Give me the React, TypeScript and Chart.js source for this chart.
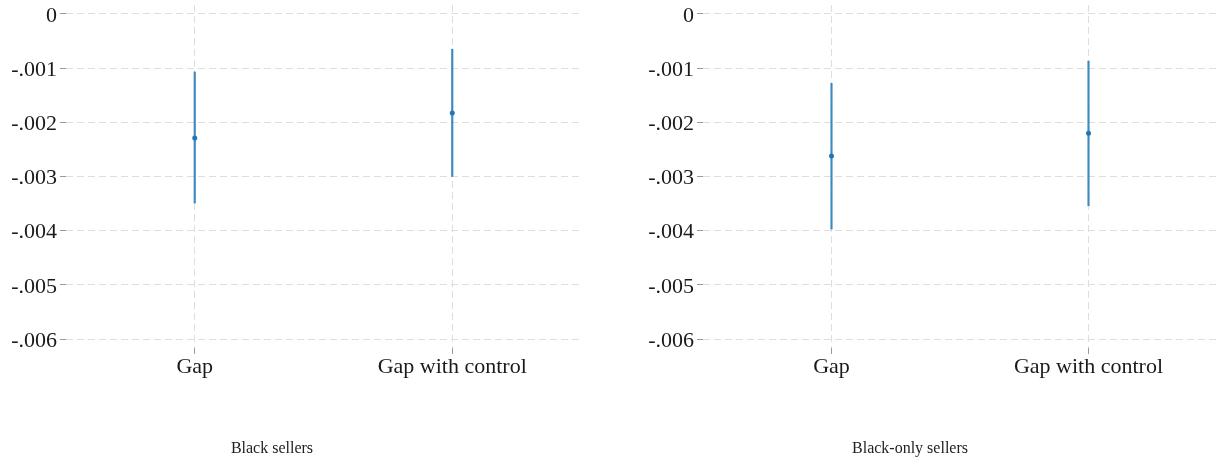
import React, { useEffect, useRef } from "react";
import { Chart, registerables } from "chart.js";

Chart.register(...registerables);

const categories = ["Gap", "Gap with control"];

const blackEst = [-0.00229, -0.00183];
const blackLo = [-0.00349, -0.003];
const blackHi = [-0.00107, -0.00065];

const onlyEst = [-0.00262, -0.0022];
const onlyLo = [-0.00397, -0.00354];
const onlyHi = [-0.00128, -0.00087];

const yTickValues = [0, -0.001, -0.002, -0.003, -0.004, -0.005, -0.006];
const yTickLabels = ["0", "-.001", "-.002", "-.003", "-.004", "-.005", "-.006"];

const panelTitles = ["Black sellers", "Black-only sellers"];

const BLUE = "#1f77b4";
const BAR = "rgba(31,119,180,0.85)";
const GRID = "#dedede";
const TICK = "#9a9a9a";
const TEXT = "#1a1a1a";
const FONT = '"Liberation Serif", "Times New Roman", serif';

type PanelProps = {
  est: number[];
  lo: number[];
  hi: number[];
  left: number;
  width: number;
  yWidth: number;
  padRight: number;
};

function Panel({ est, lo, hi, left, width, yWidth, padRight }: PanelProps) {
  const ref = useRef<HTMLCanvasElement | null>(null);
  useEffect(() => {
    if (!ref.current) return;
    const chart = new Chart(ref.current, {
      type: "bar",
      data: {
        labels: categories,
        datasets: [
          {
            type: "bar",
            data: lo.map((l, i) => [l, hi[i]]) as any,
            backgroundColor: BAR,
            borderWidth: 0,
            borderSkipped: false,
            barThickness: 1.5,
            order: 2,
          } as any,
          {
            type: "line",
            data: est,
            showLine: false,
            pointRadius: 2.5,
            pointBackgroundColor: BLUE,
            pointBorderWidth: 0,
            order: 1,
          } as any,
        ],
      },
      options: {
        responsive: false,
        animation: false,
        devicePixelRatio: 1,
        plugins: { legend: { display: false }, tooltip: { enabled: false } },
        layout: { padding: { left: 0, right: padRight, top: 5, bottom: 0 } },
        scales: {
          x: {
            offset: true,
            grid: {
              offset: false,
              color: GRID,
              lineWidth: 1,
              tickLength: 6,
              tickColor: TICK,
              tickBorderDash: [1, 0],
              drawTicks: true,
            } as any,
            border: { display: false, dash: [7, 4] },
            ticks: {
              font: { family: FONT, size: 22 },
              color: TEXT,
              padding: 0,
              maxRotation: 0,
              autoSkip: false,
            },
            afterFit: (s: any) => {
              s.height = 114;
              s.paddingLeft = 0;
              s.paddingRight = 0;
            },
          },
          y: {
            min: -0.006166,
            max: 0.000166,
            afterBuildTicks: (s: any) => {
              s.ticks = yTickValues.map((v) => ({ value: v }));
            },
            grid: {
              color: GRID,
              lineWidth: 1,
              tickLength: 6,
              tickColor: TICK,
              tickBorderDash: [1, 0],
              drawTicks: true,
            } as any,
            border: { display: false, dash: [7, 4] },
            ticks: {
              font: { family: FONT, size: 22 },
              color: TEXT,
              padding: 3,
              labelOffset: 2,
              callback: (v: any) => {
                const i = yTickValues.findIndex((t) => Math.abs(t - Number(v)) < 1e-9);
                return i >= 0 ? yTickLabels[i] : "";
              },
            },
            afterFit: (s: any) => {
              s.width = yWidth;
              s.paddingTop = 0;
              s.paddingBottom = 0;
            },
          },
        },
      },
    });
    return () => chart.destroy();
  }, []);
  return (
    <canvas
      ref={ref}
      width={width}
      height={462}
      style={{ position: "absolute", left, top: 0, width, height: 462 }}
    />
  );
}

export default function App() {
  return (
    <div
      style={{
        position: "fixed",
        left: 0,
        top: 0,
        width: 1221,
        height: 462,
        background: "#fff",
        overflow: "hidden",
      }}
    >
      <Panel est={blackEst} lo={blackLo} hi={blackHi} left={0} width={610} yWidth={66} padRight={29} />
      <Panel est={onlyEst} lo={onlyLo} hi={onlyHi} left={610} width={611} yWidth={93} padRight={3} />
      {panelTitles.map((t, i) => (
        <div
          key={t}
          style={{
            position: "absolute",
            left: i === 0 ? 272 - 150 : 910 - 150,
            width: 300,
            top: 439,
            textAlign: "center",
            fontFamily: FONT,
            fontSize: 16,
            lineHeight: "18px",
            color: "#222",
          }}
        >
          {t}
        </div>
      ))}
    </div>
  );
}
